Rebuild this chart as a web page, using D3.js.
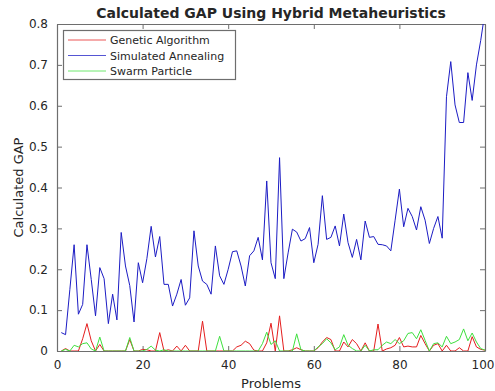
<!DOCTYPE html>
<html>
<head>
<meta charset="utf-8">
<script src="https://cdn.jsdelivr.net/npm/d3@7"></script>
<style>
  body { margin: 0; background: #fff; }
  svg text { font-family: "DejaVu Sans", sans-serif; fill: #262626; }
</style>
</head>
<body>
<svg id="chart" width="495" height="391"></svg>
<script>
// data, problems 1..100
const problems = d3.range(1, 101);

const genetic = [
  0, 0.006, 0, 0, 0, 0.03, 0.067, 0.025, 0, 0.016,
  0, 0, 0, 0, 0, 0, 0.028, 0, 0, 0.004,
  0.003, 0, 0, 0.045, 0, 0.003, 0, 0.012, 0, 0.014,
  0, 0, 0, 0.073, 0, 0, 0, 0, 0, 0,
  0, 0.01, 0.014, 0.024, 0.018, 0.002, 0, 0, 0.02, 0.068,
  0, 0.086, 0, 0, 0.003, 0.008, 0.003, 0, 0, 0,
  0.008, 0.022, 0.033, 0.028, 0, 0, 0.022, 0.01, 0.028, 0.018,
  0, 0.02, 0, 0, 0.066, 0, 0.005, 0.008, 0.014, 0.033,
  0.01, 0.012, 0.01, 0.01, 0.038, 0.018, 0, 0.014, 0.018, 0,
  0.014, 0, 0, 0.008, 0, 0, 0.035, 0.01, 0.004, 0.002
];

const annealing = [
  0.045, 0.04, 0.15, 0.26, 0.09, 0.114, 0.26, 0.175, 0.086, 0.204,
  0.177, 0.067, 0.139, 0.076, 0.29, 0.208, 0.16, 0.071, 0.216, 0.167,
  0.226, 0.305, 0.23, 0.28, 0.163, 0.163, 0.11, 0.139, 0.175, 0.112,
  0.13, 0.294, 0.208, 0.171, 0.163, 0.139, 0.257, 0.184, 0.163, 0.2,
  0.243, 0.245, 0.208, 0.159, 0.233, 0.245, 0.278, 0.223, 0.416, 0.216,
  0.177, 0.473, 0.177, 0.24, 0.298, 0.291, 0.269, 0.275, 0.302, 0.216,
  0.261, 0.38, 0.273, 0.278, 0.306, 0.257, 0.335, 0.265, 0.229, 0.273,
  0.223, 0.318, 0.278, 0.28, 0.261, 0.26, 0.257, 0.245, 0.32, 0.396,
  0.304, 0.349, 0.329, 0.296, 0.353, 0.32, 0.263, 0.3, 0.329, 0.276,
  0.622, 0.708, 0.602, 0.559, 0.559, 0.681, 0.613, 0.7, 0.76, 0.83
];

const swarm = [
  0, 0.004, 0, 0.014, 0.01, 0.018, 0.02, 0.005, 0, 0.034,
  0, 0, 0, 0, 0, 0, 0.033, 0, 0, 0,
  0.004, 0.012, 0.002, 0, 0.003, 0, 0, 0, 0, 0,
  0, 0, 0, 0, 0, 0, 0, 0.036, 0, 0,
  0, 0, 0, 0, 0, 0, 0, 0.018, 0.046, 0.016,
  0.025, 0, 0, 0, 0, 0.042, 0.003, 0, 0, 0,
  0.01, 0.018, 0.03, 0.02, 0.003, 0.01, 0.04, 0.014, 0.006, 0,
  0, 0.014, 0, 0.003, 0.003, 0.014, 0.022, 0.018, 0.028, 0.018,
  0.025, 0.043, 0.045, 0.03, 0.052, 0.026, 0, 0.018, 0.02, 0.01,
  0.036, 0.018, 0.022, 0.028, 0.054, 0.025, 0.044, 0.022, 0.006, 0.002
];

const seriesNames = ["Genetic Algorithm", "Simulated Annealing", "Swarm Particle"];
const seriesColors = ["#e41e1e", "#1c1cc4", "#3ee03e"];
const xTicks = [0, 20, 40, 60, 80, 100];
const yTicks = [0, 0.1, 0.2, 0.3, 0.4, 0.5, 0.6, 0.7, 0.8];

const plotLeft = 57, plotRight = 485, plotTop = 24, plotBottom = 351;

const svg = d3.select("#chart");

const x = d3.scaleLinear().domain([0, 100]).range([plotLeft, plotRight]);
const y = d3.scaleLinear().domain([0, 0.8]).range([plotBottom, plotTop]);

svg.append("clipPath")
    .attr("id", "plotclip")
  .append("rect")
    .attr("x", plotLeft)
    .attr("y", plotTop)
    .attr("width", plotRight - plotLeft)
    .attr("height", plotBottom - plotTop);

// axes, ticks point inward like matlab
let axisColor = "#6e6e6e";

let xAxis = svg.append("g")
    .attr("transform", "translate(0," + plotBottom + ")")
    .call(d3.axisBottom(x).tickValues(xTicks).tickSizeInner(-5).tickSizeOuter(0).tickPadding(9));

let xAxisTop = svg.append("g")
    .attr("transform", "translate(0," + plotTop + ")")
    .call(d3.axisTop(x).tickValues(xTicks).tickSizeInner(-5).tickSizeOuter(0).tickFormat(""));

let yAxis = svg.append("g")
    .attr("transform", "translate(" + plotLeft + ",0)")
    .call(d3.axisLeft(y).tickValues(yTicks).tickSizeInner(-5).tickSizeOuter(0).tickPadding(9)
        .tickFormat(d => d === 0 ? "0" : d3.format(".1f")(d)));

let yAxisRight = svg.append("g")
    .attr("transform", "translate(" + plotRight + ",0)")
    .call(d3.axisRight(y).tickValues(yTicks).tickSizeInner(-5).tickSizeOuter(0).tickFormat(""));

[xAxis, xAxisTop, yAxis, yAxisRight].forEach(g => {
    g.select(".domain").attr("stroke", axisColor).attr("stroke-width", 1.2);
    g.selectAll(".tick line").attr("stroke", axisColor);
    g.selectAll(".tick text")
        .attr("font-size", 12)
        .attr("font-family", "DejaVu Sans")
        .attr("fill", "#333");
});

// the last x label sits at the window edge, keep it inside
xAxis.selectAll(".tick text")
    .filter(d => d === 100)
    .attr("text-anchor", "end")
    .attr("x", 9);

// lines
let line = d3.line()
    .x((d, i) => x(problems[i]))
    .y(d => y(d));

let plot = svg.append("g").attr("clip-path", "url(#plotclip)");

[genetic, annealing, swarm].forEach((values, k) => {
    plot.append("path")
        .datum(values)
        .attr("d", line)
        .attr("fill", "none")
        .attr("stroke", seriesColors[k])
        .attr("stroke-width", 1)
        .attr("stroke-linejoin", "round");
});

// title and labels
svg.append("text")
    .attr("x", 271)
    .attr("y", 18)
    .attr("text-anchor", "middle")
    .attr("font-size", 14)
    .attr("font-weight", "bold")
    .attr("fill", "#111")
    .text("Calculated GAP Using Hybrid Metaheuristics");

svg.append("text")
    .attr("x", (plotLeft + plotRight) / 2)
    .attr("y", 388)
    .attr("text-anchor", "middle")
    .attr("font-size", 13)
    .attr("fill", "#333")
    .text("Problems");

svg.append("text")
    .attr("transform", "translate(23," + (plotTop + plotBottom) / 2 + ") rotate(-90)")
    .attr("text-anchor", "middle")
    .attr("font-size", 13)
    .attr("fill", "#333")
    .text("Calculated GAP");

// legend
let legend = svg.append("g");

legend.append("rect")
    .attr("x", 63.5)
    .attr("y", 30.5)
    .attr("width", 172)
    .attr("height", 49)
    .attr("fill", "#fff")
    .attr("stroke", "#6e6e6e")
    .attr("stroke-width", 1.2);

seriesNames.forEach((name, k) => {
    let ly = 40 + k * 15.5;
    legend.append("line")
        .attr("x1", 68)
        .attr("x2", 106)
        .attr("y1", ly)
        .attr("y2", ly)
        .attr("stroke", seriesColors[k])
        .attr("stroke-opacity", 0.75)
        .attr("stroke-width", 1);
    legend.append("text")
        .attr("x", 110)
        .attr("y", ly + 4)
        .attr("font-size", 11)
        .attr("fill", "#222")
        .text(name);
});
</script>
</body>
</html>
